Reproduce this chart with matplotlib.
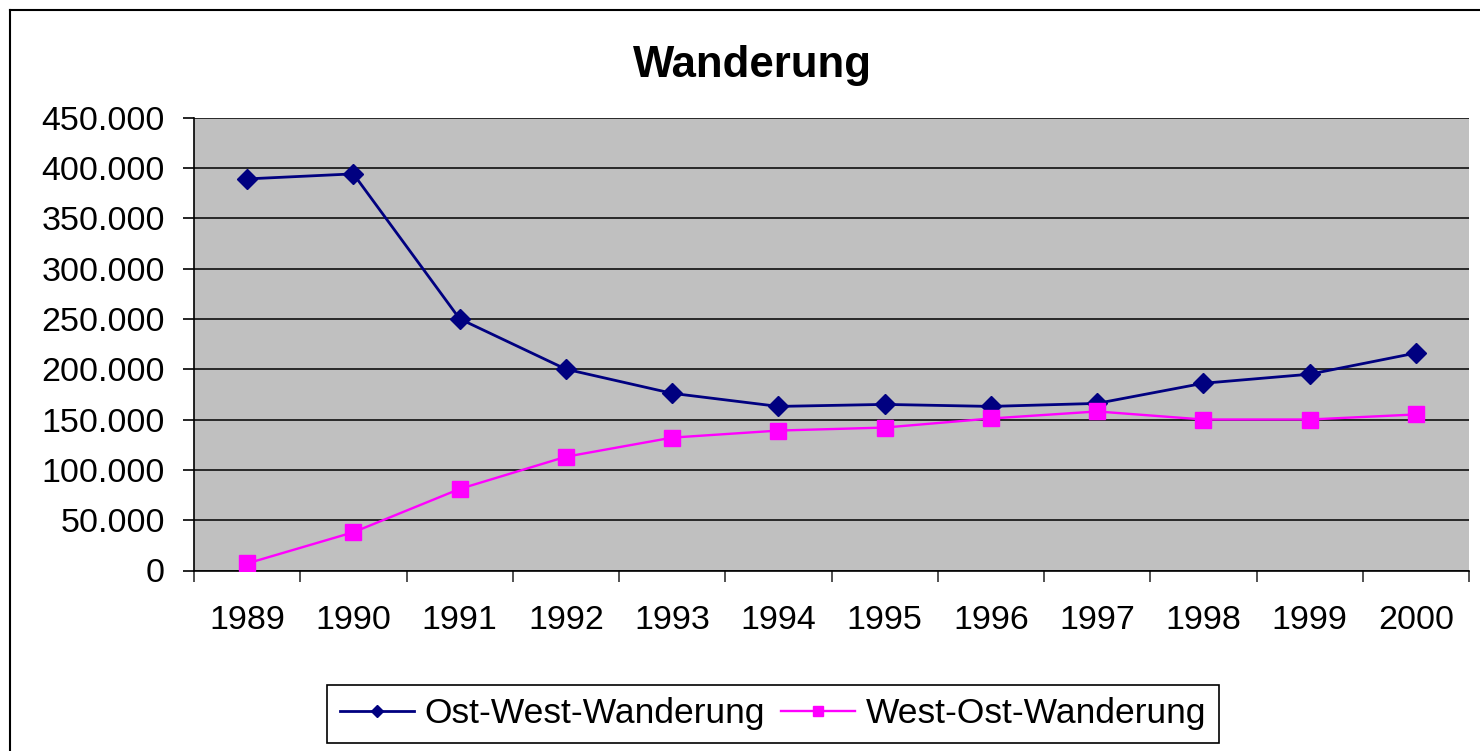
import matplotlib.pyplot as plt
from matplotlib.lines import Line2D
from matplotlib.ticker import FuncFormatter, MultipleLocator

plt.rcParams['font.family'] = ['Liberation Sans', 'DejaVu Sans']

# data
jahre = ['1989', '1990', '1991', '1992', '1993', '1994',
         '1995', '1996', '1997', '1998', '1999', '2000']
ost_west = [389000, 394000, 250000, 200000, 176000, 163000,
            165000, 163000, 166000, 186000, 195000, 216000]
west_ost = [7000, 38000, 81000, 113000, 132000, 139000,
            142000, 151000, 158000, 150000, 150000, 155000]
series_names = ['Ost-West-Wanderung', 'West-Ost-Wanderung']

fig = plt.figure(figsize=(14.8, 7.51), dpi=100)
ax = fig.add_axes([194 / 1480, 1 - 570.5 / 751, 1275 / 1480, 453 / 751])
ax.set_facecolor('#C0C0C0')

x = range(len(jahre))
ax.plot(x, ost_west, color='#000080', lw=2.0, marker='D', ms=10.5,
        label=series_names[0], zorder=3)
ax.plot(x, west_ost, color='#FF00FF', lw=1.7, marker='s', ms=12,
        label=series_names[1], zorder=3)

# axes
ax.set_ylim(0, 450000)
ax.yaxis.set_major_locator(MultipleLocator(50000))
ax.yaxis.set_major_formatter(FuncFormatter(lambda v, p: f'{int(v):,}'.replace(',', '.')))
ax.grid(axis='y', color='black', lw=1.1)
ax.set_axisbelow(True)

ax.set_xlim(-0.5, len(jahre) - 0.5)
ax.set_xticks(list(x))
ax.set_xticklabels(jahre)
ax.set_xticks([i - 0.5 for i in range(len(jahre) + 1)], minor=True)
ax.tick_params(axis='x', which='major', length=0, pad=25, labelsize=24.5)
ax.tick_params(axis='x', which='minor', length=8, width=1.2, color='#333333')
ax.tick_params(axis='y', length=8, width=1.2, pad=13, labelsize=24.5)

for side in ['top', 'right']:
    ax.spines[side].set_visible(False)
for side in ['left', 'bottom']:
    ax.spines[side].set_color('black')
    ax.spines[side].set_linewidth(1.2)

fig.text(752 / 1480, 1 - 66 / 751, 'Wanderung', ha='center', va='center',
         fontsize=31.5, fontweight='bold')

# outer chart frame
fig.add_artist(Line2D([10 / 1480, 1], [1 - 10 / 751] * 2, color='black', lw=1.5))
fig.add_artist(Line2D([10 / 1480] * 2, [0, 1 - 10 / 751], color='black', lw=1.5))

leg = fig.legend(loc='center', bbox_to_anchor=(773 / 1480, 1 - 714 / 751), ncol=2,
                 fontsize=25.5, frameon=True, fancybox=False, edgecolor='black',
                 framealpha=1, borderpad=0.35, handlelength=2.1,
                 handletextpad=0.3, columnspacing=0.45, markerscale=0.6,
                 borderaxespad=0)
leg.get_frame().set_linewidth(1.2)

fig.savefig('out.png', dpi=100)
